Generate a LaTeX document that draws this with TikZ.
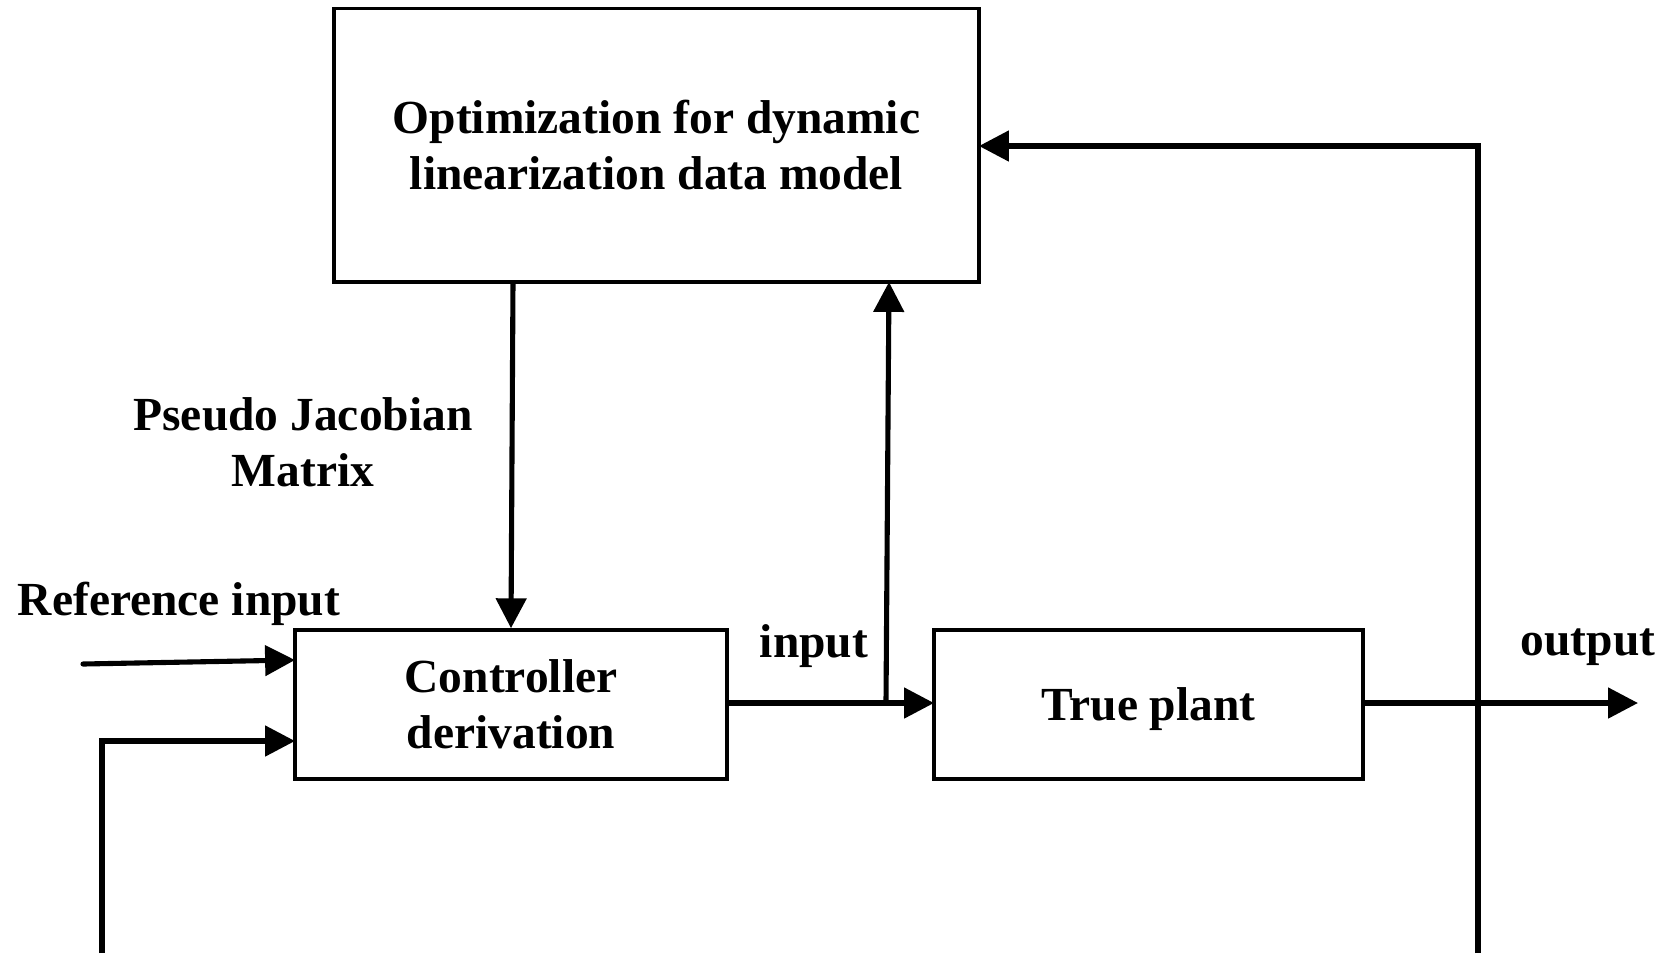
\documentclass[tikz,border=0pt]{standalone}
\usepackage{fontspec}
\setmainfont{Liberation Serif}
\usetikzlibrary{arrows.meta}
\begin{document}
\begin{tikzpicture}[x=0.01cm,y=-0.01cm,
  blk/.style={draw,line width=1pt,inner sep=0pt,font=\fontsize{13.5}{16}\selectfont\bfseries,align=center},
  lbl/.style={font=\fontsize{13.5}{16}\selectfont\bfseries,align=center,inner sep=0pt},
  conn/.style={line width=1.45pt,-{Triangle[length=8.5pt,width=8.5pt]}}]
\useasboundingbox (0,0) rectangle (1668,953);
\node[blk,minimum width=6.45cm,minimum height=2.735cm] (opt) at (656.5,145.25) {Optimization for dynamic\\linearization data model};
\node[blk,minimum width=4.32cm,minimum height=1.49cm] (ctrl) at (511,704.5) {Controller\\derivation};
\node[blk,minimum width=4.29cm,minimum height=1.49cm,text depth=0pt] (plant) at (1148.5,704.5) {True plant};
\coordinate (optS) at (513,282);
\coordinate (optSi) at (889,282);
\coordinate (split) at (886,703);
\coordinate (ctrlE) at (727,703);
\coordinate (plantW) at (934,703);
\coordinate (plantE) at (1363,703);
\coordinate (outEnd) at (1638,703);
\coordinate (fbR) at (1478,953);
\coordinate (fbRt) at (1478,146);
\coordinate (optE) at (979,146);
\coordinate (fbL) at (102,953);
\coordinate (fbLt) at (102,741);
\coordinate (ctrlW2) at (295,741);
\coordinate (ctrlW1) at (295,660);
\coordinate (refStart) at (83,664);
\node[lbl] (pjm) at (303,442) {Pseudo Jacobian\\Matrix};
\node[lbl] (refin) at (179,604) {Reference input};
\node[lbl] (inlbl) at (814,646) {input};
\node[lbl] (outlbl) at (1588,647) {output};
\draw[conn] (optS) -- (ctrl.north);
\draw[conn,line cap=round] (refStart) -- (ctrlW1);
\draw[conn] (fbL) -- (fbLt) -- (ctrlW2);
\draw[conn] (ctrlE) -- (plantW);
\draw[conn] (split) -- (optSi);
\draw[conn] (plantE) -- (outEnd);
\draw[conn] (fbR) -- (fbRt) -- (optE);
\end{tikzpicture}
\end{document}
